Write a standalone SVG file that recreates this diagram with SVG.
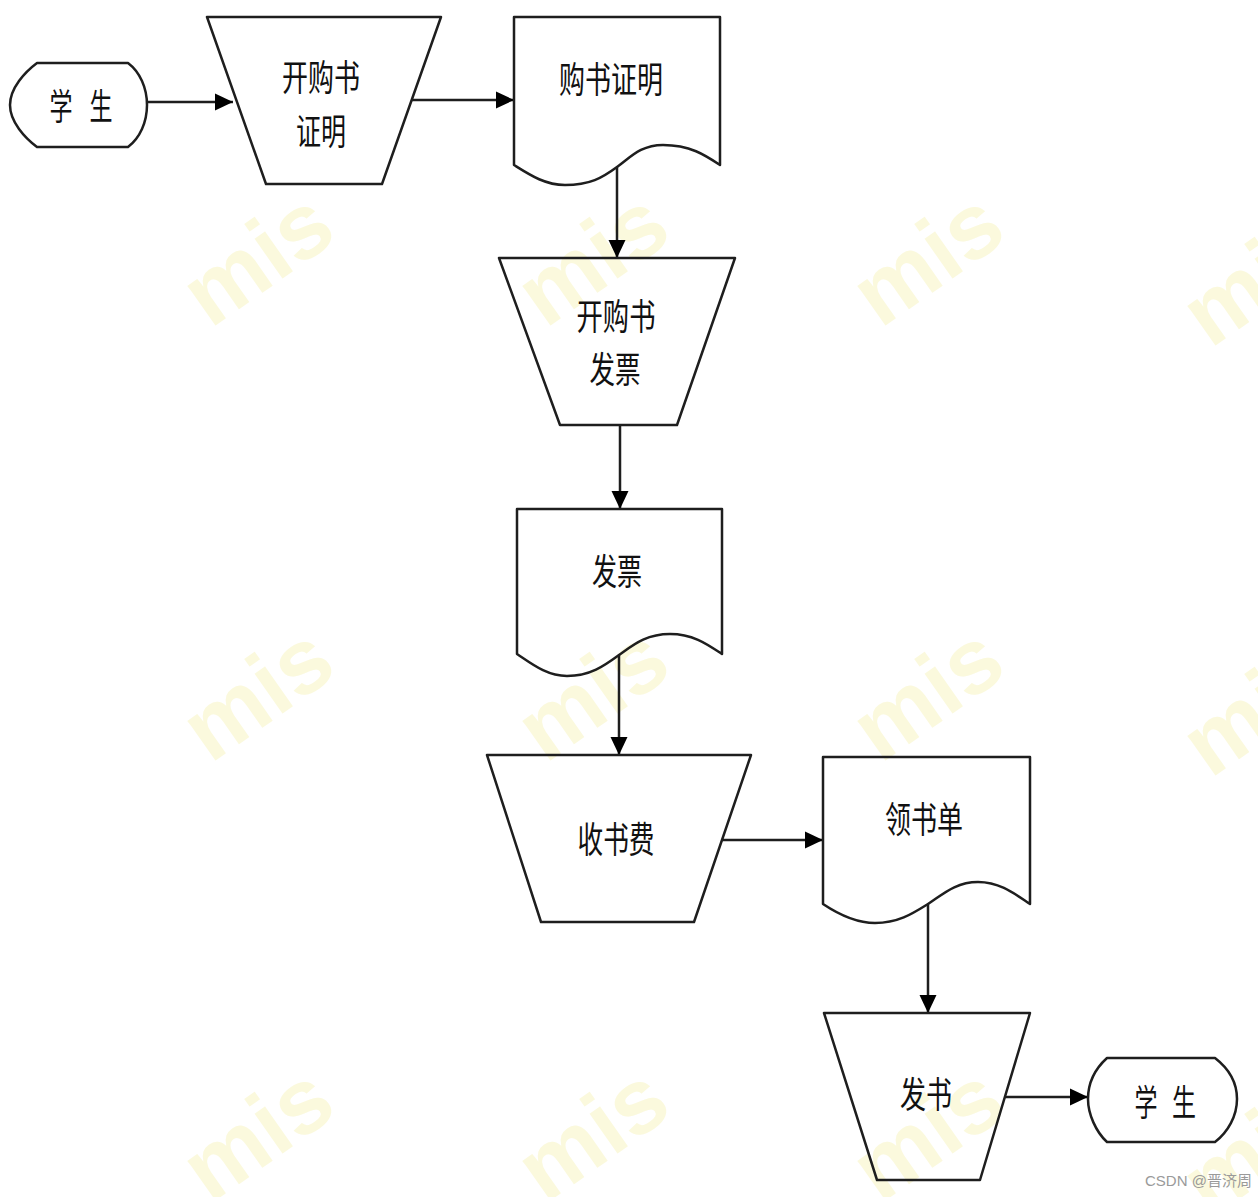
<svg xmlns="http://www.w3.org/2000/svg" width="1258" height="1197" viewBox="0 0 1258 1197">
<style>
.bg{fill:#ffffff}
.wm{font-family:"Liberation Sans",Arial,sans-serif;font-weight:bold;font-size:92px;fill:#f7f3b4;opacity:0.45}
.shape{fill:none;stroke:#1e1e1e;stroke-width:2.5;stroke-linejoin:round}
.lbl{font-family:"Noto Sans CJK SC","Noto Sans",sans-serif;font-size:36px;fill:#111;text-anchor:middle;dominant-baseline:central}
.conn{stroke:#1e1e1e;stroke-width:2.5;fill:none}
.credit{font-family:"Liberation Sans","Noto Sans CJK SC",sans-serif;font-size:15px;fill:#9a9a9a}
</style>
<defs>
<marker id="arrow" markerUnits="userSpaceOnUse" markerWidth="19" markerHeight="19" viewBox="0 0 19 19" refX="18" refY="9.5" orient="auto">
<path d="M0,1 L18,9.5 L0,18 Z" fill="#000"/>
</marker>
</defs>
<rect class="bg" x="0" y="0" width="1258" height="1197"/>
<g id="watermarks">
<text class="wm" x="255" y="290" text-anchor="middle" transform="rotate(-35 255 255)">mis</text>
<text class="wm" x="590" y="290" text-anchor="middle" transform="rotate(-35 590 255)">mis</text>
<text class="wm" x="925" y="290" text-anchor="middle" transform="rotate(-35 925 255)">mis</text>
<text class="wm" x="1255" y="310" text-anchor="middle" transform="rotate(-35 1255 275)">mis</text>
<text class="wm" x="255" y="725" text-anchor="middle" transform="rotate(-35 255 690)">mis</text>
<text class="wm" x="590" y="725" text-anchor="middle" transform="rotate(-35 590 690)">mis</text>
<text class="wm" x="925" y="725" text-anchor="middle" transform="rotate(-35 925 690)">mis</text>
<text class="wm" x="1255" y="740" text-anchor="middle" transform="rotate(-35 1255 705)">mis</text>
<text class="wm" x="255" y="1165" text-anchor="middle" transform="rotate(-35 255 1130)">mis</text>
<text class="wm" x="590" y="1165" text-anchor="middle" transform="rotate(-35 590 1130)">mis</text>
<text class="wm" x="925" y="1165" text-anchor="middle" transform="rotate(-35 925 1130)">mis</text>
<text class="wm" x="1255" y="1180" text-anchor="middle" transform="rotate(-35 1255 1145)">mis</text>
</g>
<g id="connectors">
<line class="conn" x1="147" y1="102" x2="233" y2="102" marker-end="url(#arrow)"/>
<line class="conn" x1="412" y1="100" x2="514" y2="100" marker-end="url(#arrow)"/>
<line class="conn" x1="617" y1="167" x2="617" y2="258" marker-end="url(#arrow)"/>
<line class="conn" x1="620" y1="425" x2="620" y2="509" marker-end="url(#arrow)"/>
<line class="conn" x1="619" y1="655" x2="619" y2="755" marker-end="url(#arrow)"/>
<line class="conn" x1="722" y1="840" x2="823" y2="840" marker-end="url(#arrow)"/>
<line class="conn" x1="928" y1="904" x2="928" y2="1013" marker-end="url(#arrow)"/>
<line class="conn" x1="1005" y1="1097" x2="1088" y2="1097" marker-end="url(#arrow)"/>
</g>
<g id="student-start">
<path class="shape" d="M37,63 L128,63 C140,72 147,88 147,105 C147,122 140,138 128,147 L37,147 C25,138 10,122 10,105 C10,88 25,72 37,63 Z"/>
<text class="lbl" x="61" y="104" textLength="23" lengthAdjust="spacingAndGlyphs">学</text>
<text class="lbl" x="101" y="104" textLength="23" lengthAdjust="spacingAndGlyphs">生</text>
</g>
<g id="issue-certificate">
<path class="shape" d="M207,17 L441,17 L382,184 L266,184 Z"/>
<text class="lbl" x="321" y="75" textLength="78" lengthAdjust="spacingAndGlyphs">开购书</text>
<text class="lbl" x="321" y="129" textLength="50" lengthAdjust="spacingAndGlyphs">证明</text>
</g>
<g id="purchase-certificate">
<path class="shape" d="M514,17 L720,17 L720,165 C705,155 690,145 663,145 C640,145 630,158 617,167 C602,178 590,185 565,185 C545,185 530,175 514,165 Z"/>
<text class="lbl" x="611" y="77" textLength="104" lengthAdjust="spacingAndGlyphs">购书证明</text>
</g>
<g id="issue-invoice">
<path class="shape" d="M499,258 L735,258 L677,425 L560,425 Z"/>
<text class="lbl" x="616" y="314" textLength="79" lengthAdjust="spacingAndGlyphs">开购书</text>
<text class="lbl" x="615" y="367" textLength="51" lengthAdjust="spacingAndGlyphs">发票</text>
</g>
<g id="invoice">
<path class="shape" d="M517,509 L722,509 L722,654 C707,644 693,634 670,634 C645,634 632,646 619,655 C604,666 590,676 567,676 C547,676 532,664 517,654 Z"/>
<text class="lbl" x="617" y="569" textLength="50" lengthAdjust="spacingAndGlyphs">发票</text>
</g>
<g id="collect-fee">
<path class="shape" d="M487,755 L751,755 L694,922 L541,922 Z"/>
<text class="lbl" x="616" y="837" textLength="77" lengthAdjust="spacingAndGlyphs">收书费</text>
</g>
<g id="book-slip">
<path class="shape" d="M823,757 L1030,757 L1030,904 C1015,894 1000,882 978,882 C955,882 942,895 928,904 C912,914 898,923 875,923 C855,923 838,914 823,904 Z"/>
<text class="lbl" x="924" y="817" textLength="78" lengthAdjust="spacingAndGlyphs">领书单</text>
</g>
<g id="distribute-books">
<path class="shape" d="M824,1013 L1030,1013 L980,1180 L877,1180 Z"/>
<text class="lbl" x="926" y="1092" textLength="52" lengthAdjust="spacingAndGlyphs">发书</text>
</g>
<g id="student-end">
<path class="shape" d="M1107,1058 L1215,1058 C1228,1068 1237,1082 1237,1099 C1237,1116 1228,1132 1215,1142 L1107,1142 C1096,1132 1088,1114 1088,1099 C1088,1082 1096,1068 1107,1058 Z"/>
<text class="lbl" x="1146" y="1100" textLength="23" lengthAdjust="spacingAndGlyphs">学</text>
<text class="lbl" x="1184" y="1100" textLength="24" lengthAdjust="spacingAndGlyphs">生</text>
</g>
<text class="credit" x="1145" y="1186">CSDN @晋济周</text>
</svg>
